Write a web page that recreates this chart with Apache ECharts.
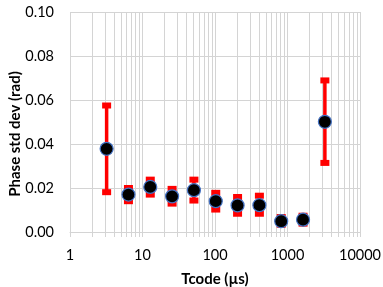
<!DOCTYPE html>
<html>
<head>
<meta charset="utf-8">
<script src="https://cdn.jsdelivr.net/npm/echarts@6/dist/echarts.min.js"></script>
<style>html,body{margin:0;padding:0;background:#fff}#c{width:383px;height:287px}</style>
</head>
<body>
<div id="c"></div>
<script>
var tcode = [3.2, 6.4, 12.8, 25.6, 51.2, 102.4, 204.8, 409.6, 819.2, 1638.4, 3276.8];
var meanVal = [0.0378, 0.0170, 0.0205, 0.0162, 0.0190, 0.0140, 0.0121, 0.0122, 0.0049, 0.0056, 0.0501];
var lowerVal = [0.0181, 0.0140, 0.0170, 0.0129, 0.0143, 0.0102, 0.0083, 0.0083, 0.0033, 0.0038, 0.0314];
var upperVal = [0.0575, 0.0200, 0.0238, 0.0196, 0.0238, 0.0178, 0.0159, 0.0165, 0.0068, 0.0074, 0.0689];
var decades = [1, 10, 100, 1000];
var minorMult = [2, 3, 4, 5, 6, 7, 8, 9];
var xTickLabels = ['1', '10', '100', '1000', '10000'];
var xName = 'Tcode (µs)';
var yName = 'Phase std dev (rad)';

var FONT = 'Lato';
var GRID = '#d4d4d4';

var minorVals = [];
decades.forEach(function (d) { minorMult.forEach(function (m) { minorVals.push([d * m, 0]); }); });

var errData = tcode.map(function (t, i) { return [t, lowerVal[i], upperVal[i]]; });
var ptData = tcode.map(function (t, i) { return [t, meanVal[i]]; });

var chart = echarts.init(document.getElementById('c'), null, {renderer: 'canvas'});
chart.setOption({
  animation: false,
  grid: {left: 70, right: 23, top: 12, bottom: 55, containLabel: false, outerBoundsMode: 'none'},
  xAxis: {
    type: 'log', logBase: 10, min: 1, max: 10000,
    name: xName, nameLocation: 'middle', nameGap: 40,
    nameTextStyle: {fontFamily: FONT, fontWeight: 'bold', fontSize: 15, color: '#000'},
    axisLine: {show: true, lineStyle: {color: GRID, width: 1}},
    axisTick: {show: true, length: 5, lineStyle: {color: GRID}},
    axisLabel: {fontFamily: FONT, fontSize: 14.5, color: '#000', margin: 16,
      formatter: function (v) { return String(Math.round(v)); }},
    splitLine: {show: true, lineStyle: {color: GRID, width: 1}},
    minorTick: {show: false}, minorSplitLine: {show: false}
  },
  yAxis: {
    type: 'value', min: 0, max: 0.1, interval: 0.02,
    axisLine: {show: false}, axisTick: {show: false},
    axisLabel: {fontFamily: FONT, fontSize: 14.5, color: '#000', margin: 16,
      formatter: function (v) { return v.toFixed(2); }},
    splitLine: {show: true, lineStyle: {color: GRID, width: 1}}
  },
  graphic: [{
    type: 'text', x: 15, y: 134, rotation: Math.PI / 2,
    style: {text: yName, fontFamily: FONT, fontWeight: 'bold', fontSize: 15, fill: '#000',
      align: 'center', verticalAlign: 'middle'}
  }],
  series: [
    {
      type: 'custom', silent: true, z: 1,
      data: minorVals,
      encode: {x: 0, y: 1},
      renderItem: function (params, api) {
        var p0 = api.coord([api.value(0), 0]);
        var p1 = api.coord([api.value(0), 0.1]);
        return {type: 'line', shape: {x1: Math.round(p0[0]) + 0.5, y1: p1[1], x2: Math.round(p0[0]) + 0.5, y2: p0[1] + 5},
          style: {stroke: GRID, lineWidth: 1}};
      }
    },
    {
      type: 'custom', silent: true, z: 3,
      data: errData,
      encode: {x: 0, y: [1, 2]},
      renderItem: function (params, api) {
        var lo = api.coord([api.value(0), api.value(1)]);
        var hi = api.coord([api.value(0), api.value(2)]);
        var cw = 9, ch = 6;
        return {type: 'group', children: [
          {type: 'line', shape: {x1: lo[0], y1: lo[1], x2: hi[0], y2: hi[1]}, style: {stroke: '#ff0000', lineWidth: 3.5}},
          {type: 'rect', shape: {x: lo[0] - cw / 2, y: lo[1] - ch / 2, width: cw, height: ch}, style: {fill: '#ff0000'}},
          {type: 'rect', shape: {x: hi[0] - cw / 2, y: hi[1] - ch / 2, width: cw, height: ch}, style: {fill: '#ff0000'}}
        ]};
      }
    },
    {
      type: 'scatter', z: 5, data: ptData, symbol: 'circle', symbolSize: 13,
      itemStyle: {color: '#000', borderColor: '#4472c4', borderWidth: 1.2, opacity: 1}
    }
  ]
});
</script>
</body>
</html>
